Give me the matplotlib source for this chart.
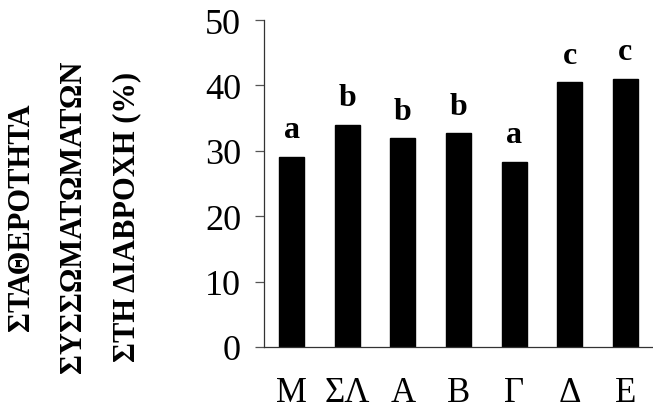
import matplotlib
matplotlib.use("Agg")
import matplotlib.pyplot as plt
import numpy as np

# Aggregate stability to wetting per treatment
categories = ["Μ", "ΣΛ", "Α", "Β", "Γ", "Δ", "Ε"]
values = [29.1, 34.0, 31.9, 32.7, 28.3, 40.5, 41.0]
letters = ["a", "b", "b", "b", "a", "c", "c"]
yticks = [0, 10, 20, 30, 40, 50]
ylabel_lines = ["ΣΤΑΘΕΡΟΤΗΤΑ", "ΣΥΣΣΩΜΑΤΩΜΑΤΩΝ", "ΣΤΗ ΔΙΑΒΡΟΧΗ (%)"]

plt.rcParams["font.family"] = ["Liberation Serif", "DejaVu Serif"]

fig = plt.figure(figsize=(6.53, 4.14), dpi=100)
ax = fig.add_axes([264 / 653, 66 / 414, (653 - 264) / 653, (348 - 21) / 414])

x = np.arange(len(categories))
ax.bar(x, values, width=0.45, color="black", edgecolor="black")

for xi, v, lab in zip(x, values, letters):
    ax.annotate(lab, (xi, v), xytext=(0, 14), textcoords="offset points",
                ha="center", va="baseline", fontsize=23, fontweight="bold")

ax.set_xlim(-0.5, len(categories) - 0.5)
ax.set_ylim(0, 50)
ax.set_yticks(yticks)
ax.set_xticks(x)
ax.set_xticklabels(categories)

for side in ("top", "right"):
    ax.spines[side].set_visible(False)
for side in ("left", "bottom"):
    ax.spines[side].set_color("#333333")
    ax.spines[side].set_linewidth(0.9)

ax.tick_params(axis="y", direction="out", length=6.5, width=0.9, color="#555555",
               labelsize=26, pad=10)
ax.tick_params(axis="x", length=0, labelsize=25, pad=21)

centers_px = [22, 74, 127]
for cx, line in zip(centers_px, ylabel_lines):
    fig.text(cx / 653, 1 - 217 / 414, line, rotation=90, ha="center", va="center",
             fontsize=22, fontweight="bold")

fig.savefig("out.png", dpi=100)
